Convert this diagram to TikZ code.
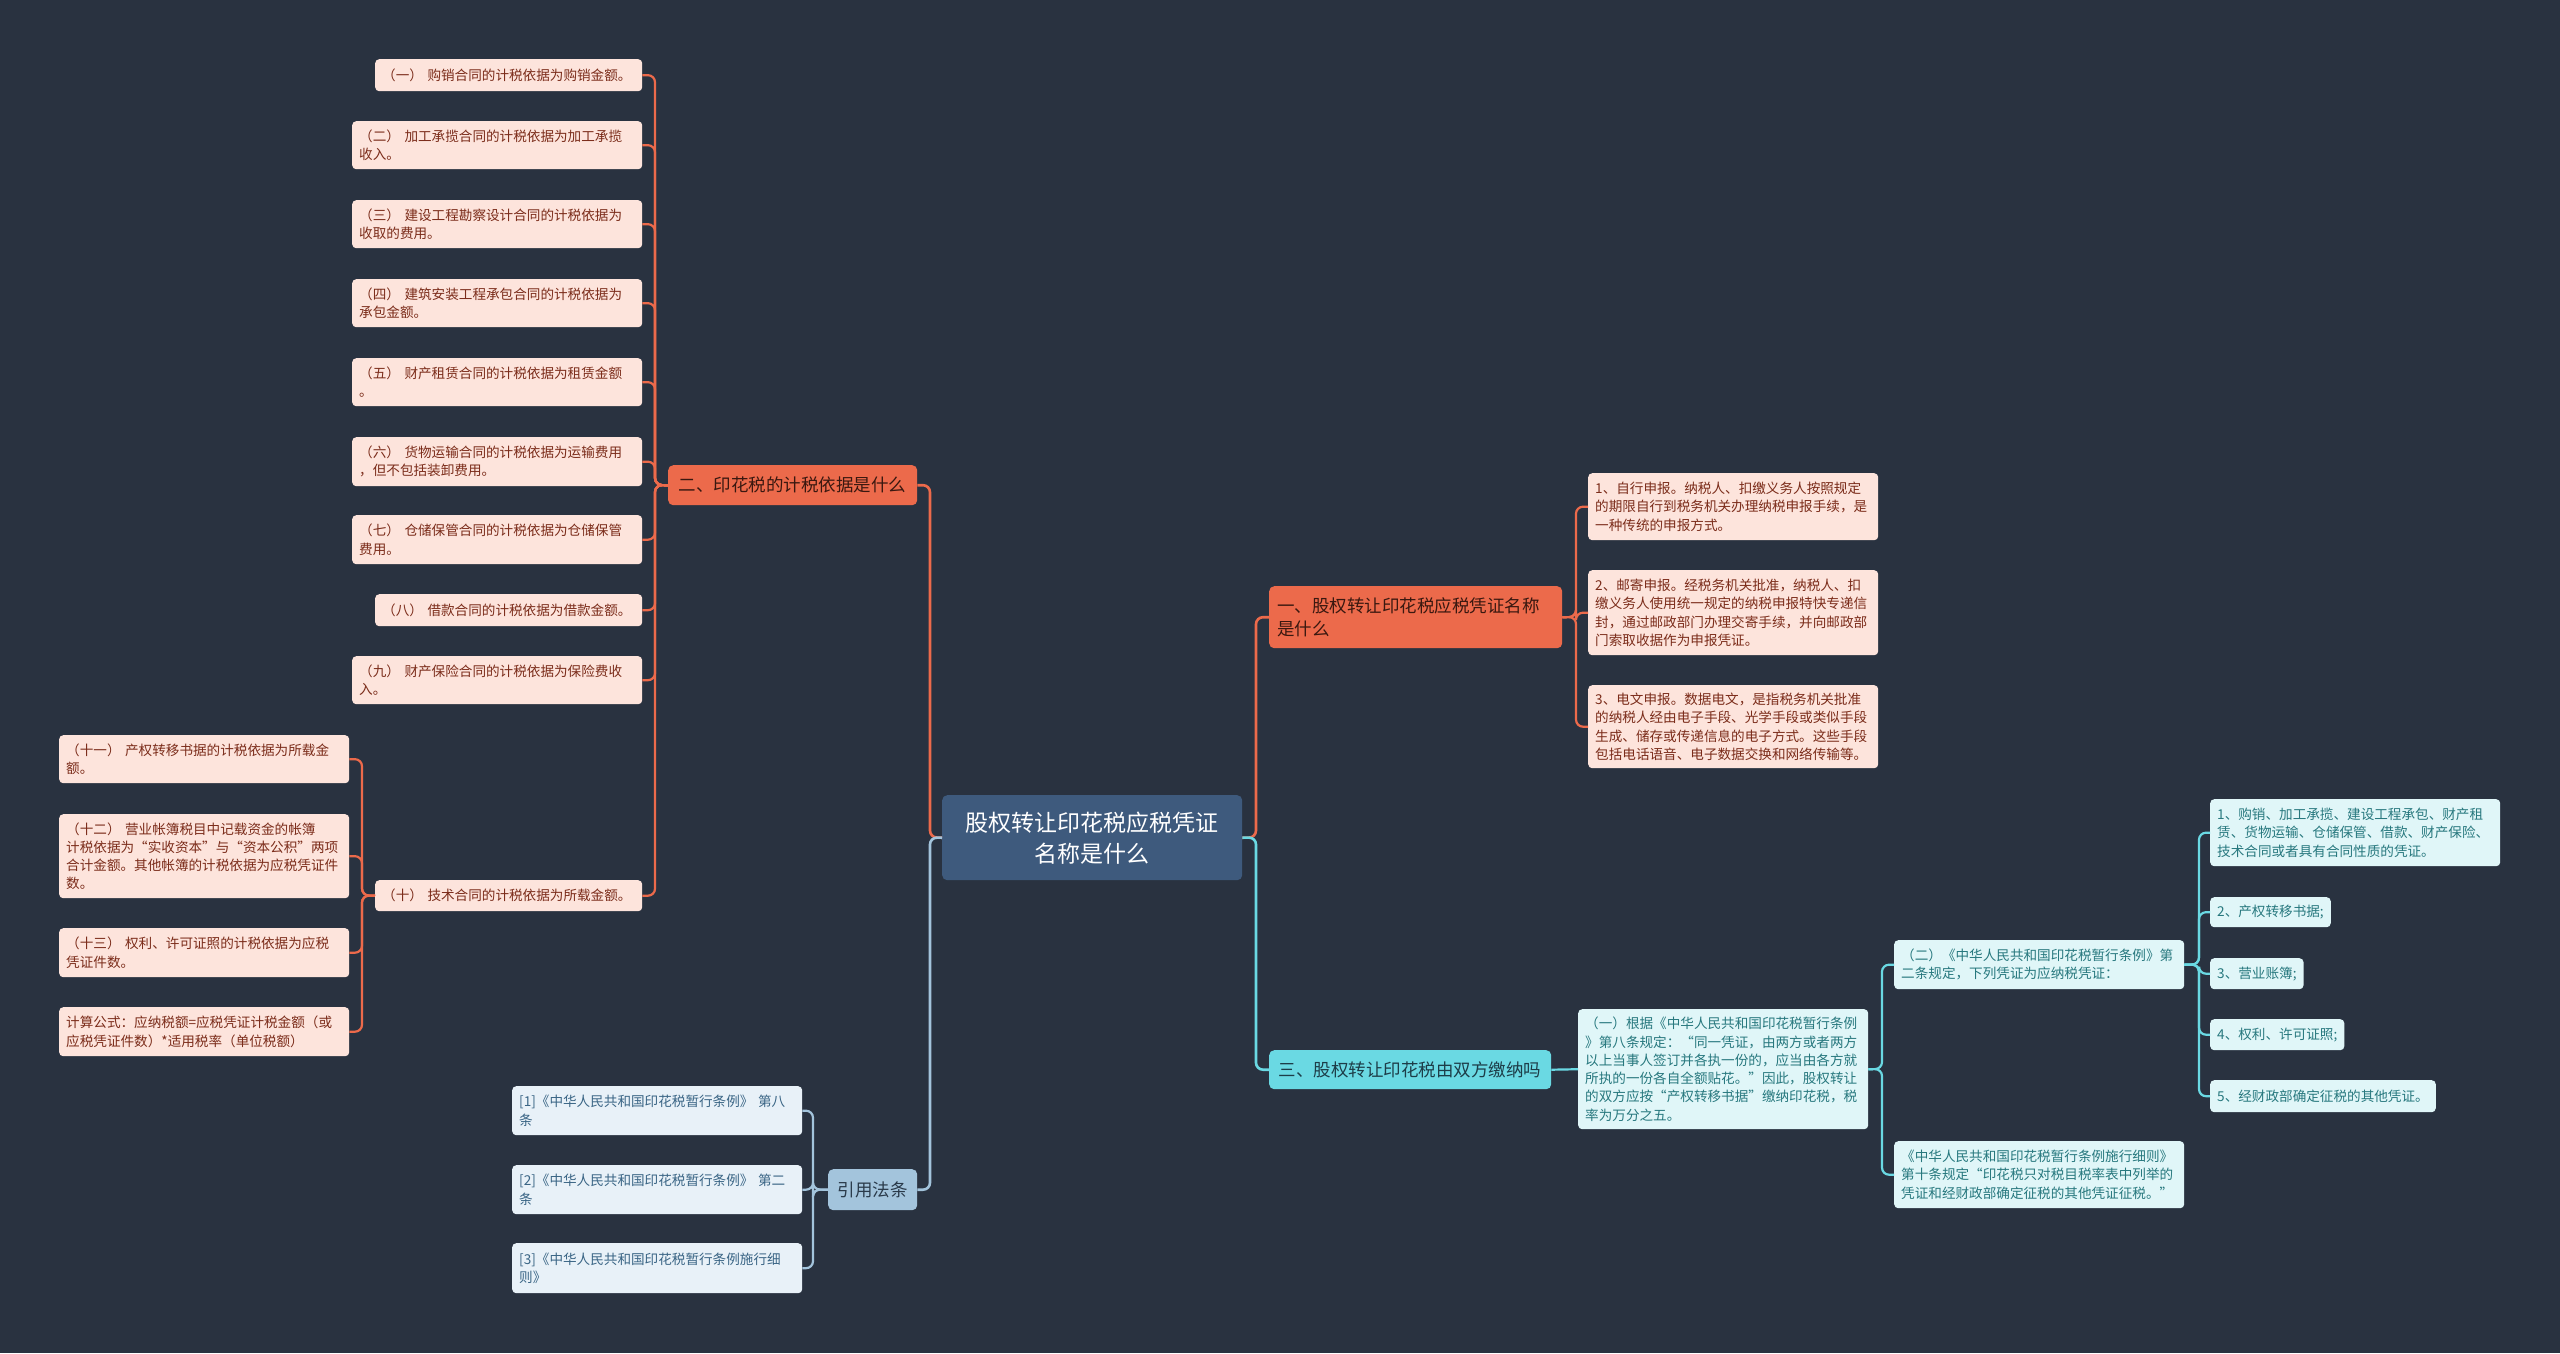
\documentclass[tikz,border=0pt]{standalone}
\usepackage{fontspec}
\setmainfont{Noto Sans CJK SC}
\definecolor{bgc}{HTML}{293240}
\definecolor{rootfill}{HTML}{3E5A7D}
\definecolor{rmain}{HTML}{EC6A4B}
\definecolor{rmaintext}{HTML}{3A1810}
\definecolor{rleaffill}{HTML}{FDE4DC}
\definecolor{rleaftext}{HTML}{7B2C1A}
\definecolor{cmain}{HTML}{6AD9E3}
\definecolor{cmaintext}{HTML}{1D3D48}
\definecolor{cleaffill}{HTML}{E0F6F8}
\definecolor{cleaftext}{HTML}{27787E}
\definecolor{bmain}{HTML}{A3C4DC}
\definecolor{bmaintext}{HTML}{2A3A4A}
\definecolor{bleaffill}{HTML}{E8F1F8}
\definecolor{bleaftext}{HTML}{3A6585}
\tikzset{
  base/.style={anchor=north west, inner xsep=7pt, inner ysep=0pt, rounded corners=4pt, align=left,
    font=\fontsize{13.6}{18.3}\selectfont},
  rleaf/.style={base, fill=rleaffill, text=rleaftext},
  cleaf/.style={base, fill=cleaffill, text=cleaftext},
  bleaf/.style={base, fill=bleaffill, text=bleaftext},
  mainbox/.style={anchor=north west, inner xsep=8pt, inner ysep=0pt, rounded corners=5pt, align=left,
    font=\fontsize{17.5}{23}\selectfont},
  rline/.style={draw=rmain, line width=2.2pt, rounded corners=7pt},
  cline/.style={draw=cmain, line width=2.2pt, rounded corners=7pt},
  bline/.style={draw=bmain, line width=2.2pt, rounded corners=7pt},
}
\begin{document}
\begin{tikzpicture}[x=1pt,y=-1pt]
\fill[bgc] (0,0) rectangle (2560,1353);
\useasboundingbox (0,0) rectangle (2560,1353);

% root
\node[anchor=north west, fill=rootfill, text=white, rounded corners=5pt, align=center,
  minimum width=300pt, minimum height=85pt, inner sep=0pt,
  font=\fontsize{23}{31}\selectfont] (root) at (942,795) {股权转让印花税应税凭证\\名称是什么};

% main branches
\node[mainbox, fill=rmain, text=rmaintext, minimum width=249pt, minimum height=40pt] (r2) at (668,465) {二、印花税的计税依据是什么};
\node[mainbox, fill=rmain, text=rmaintext, text width=277pt, minimum height=62pt] (r1) at (1269,586) {一、股权转让印花税应税凭证名称\\是什么};
\node[mainbox, fill=cmain, text=cmaintext, minimum width=282pt, minimum height=39pt] (c3) at (1269,1050) {三、股权转让印花税由双方缴纳吗};
\node[mainbox, fill=bmain, text=bmaintext, minimum width=89pt, minimum height=41pt, inner xsep=6pt] (bm) at (828,1169) {引用法条};

% left red leaves
\node[rleaf, text width=253pt, minimum height=32pt] (L1) at (375,59) {（一）~购销合同的计税依据为购销金额。};
\node[rleaf, text width=276pt, minimum height=48pt] (L2) at (352,121) {（二）~加工承揽合同的计税依据为加工承揽\\收入。};
\node[rleaf, text width=276pt, minimum height=48pt] (L3) at (352,200) {（三）~建设工程勘察设计合同的计税依据为\\收取的费用。};
\node[rleaf, text width=276pt, minimum height=48pt] (L4) at (352,279) {（四）~建筑安装工程承包合同的计税依据为\\承包金额。};
\node[rleaf, text width=276pt, minimum height=48pt] (L5) at (352,358) {（五）~财产租赁合同的计税依据为租赁金额\\。};
\node[rleaf, text width=276pt, minimum height=49pt] (L6) at (352,437) {（六）~货物运输合同的计税依据为运输费用\\，但不包括装卸费用。};
\node[rleaf, text width=276pt, minimum height=49pt] (L7) at (352,515) {（七）~仓储保管合同的计税依据为仓储保管\\费用。};
\node[rleaf, text width=253pt, minimum height=32pt] (L8) at (375,594) {（八）~借款合同的计税依据为借款金额。};
\node[rleaf, text width=276pt, minimum height=48pt] (L9) at (352,656) {（九）~财产保险合同的计税依据为保险费收\\入。};
\node[rleaf, text width=253pt, minimum height=31pt] (L10) at (375,880) {（十）~技术合同的计税依据为所载金额。};
\node[rleaf, text width=276pt, minimum height=48pt] (L11) at (59,735) {（十一）~产权转移书据的计税依据为所载金\\额。};
\node[rleaf, text width=276pt, minimum height=84pt] (L12) at (59,814) {（十二）~营业帐簿税目中记载资金的帐簿\\计税依据为“实收资本”与“资本公积”两项\\合计金额。其他帐簿的计税依据为应税凭证件\\数。};
\node[rleaf, text width=276pt, minimum height=49pt] (L13) at (59,928) {（十三）~权利、许可证照的计税依据为应税\\凭证件数。};
\node[rleaf, text width=276pt, minimum height=49pt] (L14) at (59,1007) {计算公式：应纳税额=应税凭证计税金额（或\\应税凭证件数）*适用税率（单位税额）};

% right red leaves
\node[rleaf, text width=276pt, minimum height=67pt] (A1) at (1588,473) {1、自行申报。纳税人、扣缴义务人按照规定\\的期限自行到税务机关办理纳税申报手续，是\\一种传统的申报方式。};
\node[rleaf, text width=276pt, minimum height=85pt] (A2) at (1588,570) {2、邮寄申报。经税务机关批准，纳税人、扣\\缴义务人使用统一规定的纳税申报特快专递信\\封，通过邮政部门办理交寄手续，并向邮政部\\门索取收据作为申报凭证。};
\node[rleaf, text width=276pt, minimum height=83pt] (A3) at (1588,685) {3、电文申报。数据电文，是指税务机关批准\\的纳税人经由电子手段、光学手段或类似手段\\生成、储存或传递信息的电子方式。这些手段\\包括电话语音、电子数据交换和网络传输等。};

% cyan leaves
\node[cleaf, text width=276pt, minimum height=120pt] (C1) at (1578,1009) {（一）根据《中华人民共和国印花税暂行条例\\》第八条规定：“同一凭证，由两方或者两方\\以上当事人签订并各执一份的，应当由各方就\\所执的一份各自全额贴花。”因此，股权转让\\的双方应按“产权转移书据”缴纳印花税，税\\率为万分之五。};
\node[cleaf, text width=276pt, minimum height=49pt] (C2) at (1894,940) {（二）《中华人民共和国印花税暂行条例》第\\二条规定，下列凭证为应纳税凭证：};
\node[cleaf, text width=276pt, minimum height=67pt] (C3) at (1894,1141) {《中华人民共和国印花税暂行条例施行细则》\\第十条规定“印花税只对税目税率表中列举的\\凭证和经财政部确定征税的其他凭证征税。”};
\node[cleaf, text width=276pt, minimum height=67pt] (D1) at (2210,799) {1、购销、加工承揽、建设工程承包、财产租\\赁、货物运输、仓储保管、借款、财产保险、\\技术合同或者具有合同性质的凭证。};
\node[cleaf, minimum height=30pt] (D2) at (2210,897) {2、产权转移书据;};
\node[cleaf, minimum height=31pt] (D3) at (2210,958) {3、营业账簿;};
\node[cleaf, minimum height=31pt] (D4) at (2210,1019) {4、权利、许可证照;};
\node[cleaf, minimum height=32pt] (D5) at (2210,1080) {5、经财政部确定征税的其他凭证。};

% blue leaves
\node[bleaf, text width=276pt, minimum height=49pt] (B1) at (512,1086) {[1]《中华人民共和国印花税暂行条例》~第八\\条};
\node[bleaf, text width=276pt, minimum height=49pt] (B2) at (512,1165) {[2]《中华人民共和国印花税暂行条例》~第二\\条};
\node[bleaf, text width=276pt, minimum height=50pt] (B3) at (512,1243) {[3]《中华人民共和国印花税暂行条例施行细\\则》};

% trunk coordinates
\coordinate (tL) at (930,837.5);
\coordinate (tR) at (1256,837.5);
\coordinate (t2) at (655,485);
\coordinate (t10) at (362,895.5);
\coordinate (t1) at (1576,617);
\coordinate (tc1) at (1882,1069);
\coordinate (tc2) at (2199,964.5);
\coordinate (tb) at (813,1189.5);

% root connectors
\draw[rline, line width=2.6pt] (root.west) -- (tL) |- (r2.east);
\draw[bline, line width=2.6pt] (root.west) -- (tL) |- (bm.east);
\draw[rline, line width=2.6pt] (root.east) -- (tR) |- (r1.west);
\draw[cline, line width=2.6pt] (root.east) -- (tR) |- (c3.west);

% branch 二
\foreach \n in {L1,L2,L3,L4,L5,L6,L7,L8,L9,L10}
  \draw[rline] (r2.west) -- (t2) |- (\n.east);
\foreach \n in {L11,L12,L13,L14}
  \draw[rline] (L10.west) -- (t10) |- (\n.east);

% branch 一
\foreach \n in {A1,A2,A3}
  \draw[rline] (r1.east) -- (t1) |- (\n.west);

% branch 三
\draw[cline] (c3.east) -- (C1.west);
\foreach \n in {C2,C3}
  \draw[cline] (C1.east) -- (tc1) |- (\n.west);
\foreach \n in {D1,D2,D3,D4,D5}
  \draw[cline] (C2.east) -- (tc2) |- (\n.west);

% 引用法条
\foreach \n in {B1,B2,B3}
  \draw[bline] (bm.west) -- (tb) |- (\n.east);
\end{tikzpicture}
\end{document}
